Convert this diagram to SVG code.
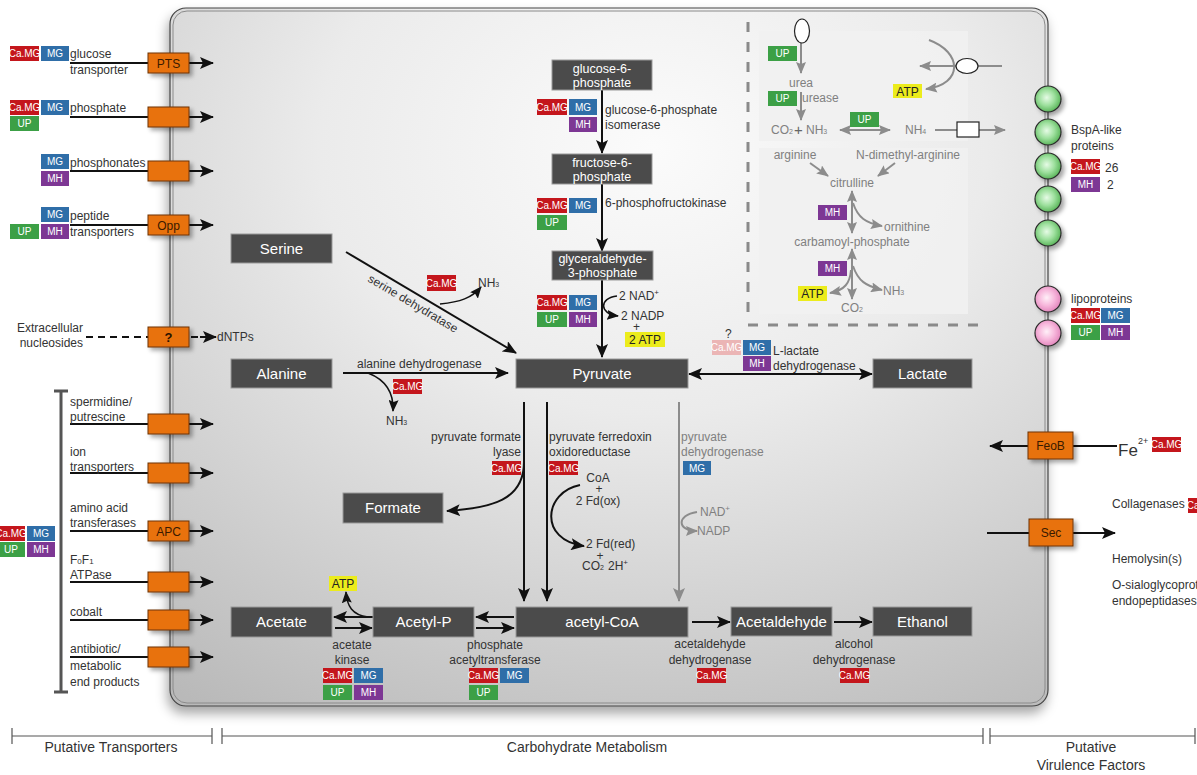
<svg xmlns="http://www.w3.org/2000/svg" width="1197" height="775" viewBox="0 0 1197 775">
<defs>
<style>
text{font-family:"Liberation Sans",Arial,Helvetica,sans-serif;}
.t{font-size:12px;fill:#333}
.tg{font-size:12px;fill:#808080}
.nb{fill:#4b4b4b;stroke:#9a9a9a;stroke-width:1}
.nt{font-size:15px;fill:#fff;text-anchor:middle}
.nt2{font-size:12.5px;fill:#fff;text-anchor:middle}
.ob{fill:#e8720f;stroke:#6e3404;stroke-width:1;filter:url(#osh)}
.ol{font-size:12px;fill:#3a1a00;text-anchor:middle}
.ln{stroke:#111;stroke-width:2;fill:none}
.lnt{stroke:#111;stroke-width:1.5;fill:none}
.gl{stroke:#8c8c8c;stroke-width:2;fill:none}
.dash{stroke:#111;stroke-width:2;fill:none;stroke-dasharray:7,5}
.r{fill:#c4161c}.b{fill:#2f6ea8}.g{fill:#3ca046}.p{fill:#7d3794}.pr{fill:#ebb5b5}
.y{fill:#ecec1c}
.tt{font-size:10px;fill:#fff;text-anchor:middle}
.yt{font-size:12px;fill:#222;text-anchor:middle}
.mid{text-anchor:middle}
.end{text-anchor:end}
.lab{font-size:14px;fill:#333;text-anchor:middle}
.panel{fill:#f1f1f1;opacity:0.9}
.idash{stroke:#8a8a8a;stroke-width:3;fill:none;stroke-dasharray:10,10}
</style>
<radialGradient id="cellg" cx="0.55" cy="0.2" r="0.95">
<stop offset="0" stop-color="#fbfbfb"/>
<stop offset="0.4" stop-color="#ebebeb"/>
<stop offset="1" stop-color="#b9b9b9"/>
</radialGradient>
<radialGradient id="grn" cx="0.45" cy="0.45" r="0.6">
<stop offset="0" stop-color="#e6fbe6"/>
<stop offset="0.5" stop-color="#9ee09e"/>
<stop offset="1" stop-color="#4fae4f"/>
</radialGradient>
<radialGradient id="pnk" cx="0.45" cy="0.45" r="0.6">
<stop offset="0" stop-color="#fff0f8"/>
<stop offset="0.5" stop-color="#f7b8dc"/>
<stop offset="1" stop-color="#e07fb8"/>
</radialGradient>
<filter id="csh" x="-5%" y="-5%" width="115%" height="115%">
<feDropShadow dx="-2" dy="7" stdDeviation="6" flood-color="#000" flood-opacity="0.35"/>
</filter>
<filter id="osh" x="-30%" y="-30%" width="170%" height="180%">
<feDropShadow dx="3" dy="3" stdDeviation="2" flood-color="#000" flood-opacity="0.35"/>
</filter>
<marker id="ah" viewBox="0 0 14 12" refX="13" refY="6" markerWidth="14" markerHeight="12" markerUnits="userSpaceOnUse" orient="auto-start-reverse">
<path d="M0,0 L14,6 L0,12 L3,6 z" fill="#111"/>
</marker>
<marker id="ahs" viewBox="0 0 12 10" refX="11" refY="5" markerWidth="12" markerHeight="10" markerUnits="userSpaceOnUse" orient="auto-start-reverse">
<path d="M0,0 L12,5 L0,10 L2,5 z" fill="#111"/>
</marker>
<marker id="ahg" viewBox="0 0 14 12" refX="13" refY="6" markerWidth="14" markerHeight="12" markerUnits="userSpaceOnUse" orient="auto-start-reverse">
<path d="M0,0 L14,6 L0,12 L3,6 z" fill="#8c8c8c"/>
</marker>
<marker id="ahgs" viewBox="0 0 12 10" refX="11" refY="5" markerWidth="12" markerHeight="10" markerUnits="userSpaceOnUse" orient="auto-start-reverse">
<path d="M0,0 L12,5 L0,10 L2,5 z" fill="#8c8c8c"/>
</marker>
</defs>

<rect width="1197" height="775" fill="#fff"/>

<!-- cell -->
<g id="cell">
<rect x="170" y="8" width="878" height="698" rx="16" fill="url(#cellg)" stroke="#444" stroke-width="1.2" filter="url(#csh)"/>
<rect x="173" y="11" width="872" height="692" rx="14" fill="none" stroke="#8a8a8a" stroke-width="1"/>
</g>

<!-- inset -->
<g id="inset">
<rect class="panel" x="759" y="31" width="209" height="110"/>
<rect class="panel" x="759" y="148" width="209" height="166"/>
<path class="idash" d="M748,22 V318"/>
<path class="idash" d="M748,325 H980"/>
</g>

<!-- connectors -->
<g id="connectors">
<!-- transporters left -->
<path class="ln" d="M70,63 H148"/><path class="ln" d="M189,63 H213" marker-end="url(#ah)"/>
<path class="ln" d="M70,117 H148"/><path class="ln" d="M189,117 H213" marker-end="url(#ah)"/>
<path class="ln" d="M70,171 H148"/><path class="ln" d="M189,171 H213" marker-end="url(#ah)"/>
<path class="ln" d="M70,225 H148"/><path class="ln" d="M189,225 H213" marker-end="url(#ah)"/>
<path class="dash" d="M86,337 H148"/><path class="dash" d="M191,337 H200"/><path class="ln" d="M200,337 H216" marker-end="url(#ah)"/>
<path class="ln" d="M70,424 H148"/><path class="ln" d="M189,424 H213" marker-end="url(#ah)"/>
<path class="ln" d="M70,473 H148"/><path class="ln" d="M189,473 H213" marker-end="url(#ah)"/>
<path class="ln" d="M70,531 H148"/><path class="ln" d="M189,531 H213" marker-end="url(#ah)"/>
<path class="ln" d="M70,582 H148"/><path class="ln" d="M189,582 H213" marker-end="url(#ah)"/>
<path class="ln" d="M70,620 H148"/><path class="ln" d="M189,620 H213" marker-end="url(#ah)"/>
<path class="ln" d="M70,657 H148"/><path class="ln" d="M189,657 H213" marker-end="url(#ah)"/>
<!-- bracket -->
<path d="M61,391 V692 M54,391 H68 M54,692 H68" stroke="#555" stroke-width="3" fill="none"/>

<!-- glycolysis -->
<path class="ln" d="M602,90 V153" marker-end="url(#ah)"/>
<path class="ln" d="M602,184 V251" marker-end="url(#ah)"/>
<path class="ln" d="M602,280 V357" marker-end="url(#ah)"/>
<path class="lnt" d="M617,296 C599,298 599,314 618,316" marker-end="url(#ahs)"/>
<!-- serine -->
<path class="ln" d="M346,252 L516,353" marker-end="url(#ah)"/>
<path class="lnt" d="M440,304 C460,302 472,298 481,287" marker-end="url(#ahs)"/>
<!-- alanine -->
<path class="ln" d="M343,373 H508" marker-end="url(#ah)"/>
<path class="lnt" d="M368,373 C386,380 394,392 393,411" marker-end="url(#ahs)"/>
<!-- lactate -->
<path class="ln" d="M689,374 H872" marker-start="url(#ah)" marker-end="url(#ah)"/>
<!-- pyruvate to acetyl-CoA -->
<path class="ln" d="M524,402 V601" marker-end="url(#ah)"/>
<path class="ln" d="M547,402 V601" marker-end="url(#ah)"/>
<path class="gl" d="M679,402 V601" marker-end="url(#ahg)"/>
<path class="ln" d="M524,462 C524,500 492,508 447,511" marker-end="url(#ah)"/>
<path class="ln" d="M580,485 C544,492 538,540 584,546" marker-end="url(#ah)"/>
<path class="gl" d="M697,512 C676,515 677,531 697,531" stroke-width="1.5" marker-end="url(#ahgs)"/>
<!-- bottom -->
<path class="ln" d="M373,617 H334" marker-end="url(#ah)"/>
<path class="ln" d="M335,628 H372" marker-end="url(#ah)"/>
<path class="lnt" d="M368,617 C352,615 347,606 346,592" marker-end="url(#ahs)"/>
<path class="ln" d="M514,617 H476" marker-end="url(#ah)"/>
<path class="ln" d="M476,628 H514" marker-end="url(#ah)"/>
<path class="ln" d="M692,622 H730" marker-end="url(#ah)"/>
<path class="ln" d="M834,622 H872" marker-end="url(#ah)"/>
<!-- right -->
<path class="ln" d="M1028,446 H990" marker-end="url(#ah)"/>
<path class="ln" d="M1073,446 H1117"/>
<path class="ln" d="M987,533 H1029"/>
<path class="ln" d="M1073,533 H1115" marker-end="url(#ah)"/>
<!-- inset connectors -->
<path class="gl" d="M801,43 V73" marker-end="url(#ahgs)"/>
<path class="gl" d="M801,92 V120" marker-end="url(#ahgs)"/>
<path class="gl" d="M840,130 H890" marker-start="url(#ahgs)" marker-end="url(#ahgs)"/>
<path class="gl" d="M935,130 H957"/>
<path class="gl" d="M979,130 H1005" marker-end="url(#ahgs)"/>
<path class="gl" d="M1002,66 H978"/>
<path class="gl" d="M956,66 H920" marker-end="url(#ahgs)"/>
<path class="gl" d="M929,40 C962,52 964,84 926,89" marker-end="url(#ahgs)"/>
<path class="gl" d="M810,163 L828,176" marker-end="url(#ahgs)"/>
<path class="gl" d="M895,163 L878,176" marker-end="url(#ahgs)"/>
<path class="gl" d="M852,191 V233" marker-start="url(#ahgs)" marker-end="url(#ahgs)"/>
<path class="gl" d="M853,203 C858,218 866,223 882,226" marker-end="url(#ahgs)"/>
<path class="gl" d="M852,249 V299" marker-start="url(#ahgs)" marker-end="url(#ahgs)"/>
<path class="gl" d="M853,266 C858,281 866,286 882,290" marker-end="url(#ahgs)"/>
<path class="gl" d="M851,270 C850,283 845,290 830,293" marker-end="url(#ahgs)"/>
</g>

<!-- inset items -->
<g id="inset-items">
<ellipse cx="802" cy="31" rx="7.5" ry="12" fill="#fff" stroke="#222" stroke-width="1.2"/>
<ellipse cx="967" cy="66" rx="11" ry="7.5" fill="#fff" stroke="#222" stroke-width="1.2"/>
<rect x="957" y="122" width="22" height="15" fill="#fff" stroke="#222" stroke-width="1.2"/>
<g transform="translate(768,46)"><rect class="g" width="29" height="15"/><text class="tt" x="14.5" y="11">UP</text></g>
<g transform="translate(768,91)"><rect class="g" width="29" height="15"/><text class="tt" x="14.5" y="11">UP</text></g>
<g transform="translate(850,112)"><rect class="g" width="29" height="15"/><text class="tt" x="14.5" y="11">UP</text></g>
<g transform="translate(893,84)"><rect class="y" width="29" height="14"/><text class="yt" x="14.5" y="11.5">ATP</text></g>
<text class="tg mid" x="801" y="87">urea</text>
<text class="tg" x="802" y="102">urease</text>
<text class="tg" x="771" y="134" font-size="11">CO<tspan font-size="7">2</tspan></text>
<text x="794" y="135" font-size="15" fill="#666">+</text>
<text class="tg" x="806" y="134" font-size="11">NH<tspan font-size="7">3</tspan></text>
<text class="tg" x="905" y="134">NH<tspan font-size="7">4</tspan></text>
<text class="tg mid" x="795" y="159">arginine</text>
<text class="tg mid" x="908" y="159">N-dimethyl-arginine</text>
<text class="tg mid" x="852" y="187">citrulline</text>
<g transform="translate(818,205)"><rect class="p" width="29" height="15"/><text class="tt" x="14.5" y="11">MH</text></g>
<text class="tg" x="884" y="231">ornithine</text>
<text class="tg mid" x="852" y="246">carbamoyl-phosphate</text>
<g transform="translate(818,261)"><rect class="p" width="29" height="15"/><text class="tt" x="14.5" y="11">MH</text></g>
<g transform="translate(798,286)"><rect class="y" width="29" height="15"/><text class="yt" x="14.5" y="12">ATP</text></g>
<text class="tg" x="883" y="295">NH<tspan font-size="7">3</tspan></text>
<text class="tg mid" x="852" y="312">CO<tspan font-size="7">2</tspan></text>
</g>

<!-- left transporters -->
<g id="t-pts">
<rect class="ob" x="148" y="53" width="41" height="20"/><text class="ol" x="168.5" y="67.5">PTS</text>
<text class="t" x="70" y="58">glucose</text><text class="t" x="70" y="74">transporter</text>
<g transform="translate(10,46)"><rect class="r" width="29" height="15"/><text class="tt" x="14.5" y="11">Ca.MG</text></g>
<g transform="translate(41,46)"><rect class="b" width="28" height="15"/><text class="tt" x="14" y="11">MG</text></g>
</g>
<g id="t-phosphate">
<rect class="ob" x="148" y="107" width="41" height="20"/>
<text class="t" x="70" y="112">phosphate</text>
<g transform="translate(10,100)"><rect class="r" width="29" height="15"/><text class="tt" x="14.5" y="11">Ca.MG</text></g>
<g transform="translate(41,100)"><rect class="b" width="28" height="15"/><text class="tt" x="14" y="11">MG</text></g>
<g transform="translate(10,116)"><rect class="g" width="29" height="15"/><text class="tt" x="14.5" y="11">UP</text></g>
</g>
<g id="t-phosphonates">
<rect class="ob" x="148" y="161" width="41" height="20"/>
<text class="t" x="70" y="167">phosphonates</text>
<g transform="translate(41,154)"><rect class="b" width="28" height="15"/><text class="tt" x="14" y="11">MG</text></g>
<g transform="translate(41,171)"><rect class="p" width="28" height="15"/><text class="tt" x="14" y="11">MH</text></g>
</g>
<g id="t-opp">
<rect class="ob" x="148" y="215" width="41" height="20"/><text class="ol" x="168.5" y="229.5">Opp</text>
<text class="t" x="70" y="220">peptide</text><text class="t" x="70" y="236">transporters</text>
<g transform="translate(41,207)"><rect class="b" width="28" height="15"/><text class="tt" x="14" y="11">MG</text></g>
<g transform="translate(10,224)"><rect class="g" width="29" height="15"/><text class="tt" x="14.5" y="11">UP</text></g>
<g transform="translate(41,224)"><rect class="p" width="28" height="15"/><text class="tt" x="14" y="11">MH</text></g>
</g>
<g id="t-nucleosides">
<rect class="ob" x="148" y="327" width="41" height="20"/><text x="168.5" y="342" font-size="13" font-weight="bold" fill="#2a1200" text-anchor="middle">?</text>
<text class="t end" x="83" y="332">Extracellular</text><text class="t end" x="83" y="347">nucleosides</text>
<text class="t" x="217" y="341">dNTPs</text>
</g>
<g id="t-spermidine">
<rect class="ob" x="148" y="414" width="41" height="20"/>
<text class="t" x="70" y="406">spermidine/</text><text class="t" x="70" y="421">putrescine</text>
</g>
<g id="t-ion">
<rect class="ob" x="148" y="463" width="41" height="20"/>
<text class="t" x="70" y="456">ion</text><text class="t" x="70" y="471">transporters</text>
</g>
<g id="t-apc">
<rect class="ob" x="148" y="521" width="41" height="20"/><text class="ol" x="168.5" y="535.5">APC</text>
<text class="t" x="70" y="512">amino acid</text><text class="t" x="70" y="527">transferases</text>
</g>
<g id="t-atpase">
<rect class="ob" x="148" y="572" width="41" height="20"/>
<text class="t" x="70" y="564">F<tspan font-size="8">0</tspan>F<tspan font-size="8">1</tspan></text><text class="t" x="70" y="579">ATPase</text>
</g>
<g id="t-cobalt">
<rect class="ob" x="148" y="610" width="41" height="20"/>
<text class="t" x="70" y="616">cobalt</text>
</g>
<g id="t-antibiotic">
<rect class="ob" x="148" y="647" width="41" height="20"/>
<text class="t" x="70" y="653">antibiotic/</text><text class="t" x="70" y="670">metabolic</text><text class="t" x="70" y="686">end products</text>
</g>
<g id="t-group-tags">
<g transform="translate(-3,526)"><rect class="r" width="28" height="15"/><text class="tt" x="14" y="11">Ca.MG</text></g>
<g transform="translate(27,526)"><rect class="b" width="28" height="15"/><text class="tt" x="14" y="11">MG</text></g>
<g transform="translate(-3,542)"><rect class="g" width="28" height="15"/><text class="tt" x="14" y="11">UP</text></g>
<g transform="translate(27,542)"><rect class="p" width="28" height="15"/><text class="tt" x="14" y="11">MH</text></g>
</g>

<!-- metabolic nodes -->
<g id="n-g6p"><rect class="nb" x="552" y="60" width="100" height="30"/><text class="nt2" x="602" y="73">glucose-6-</text><text class="nt2" x="602" y="87">phosphate</text></g>
<g id="n-f6p"><rect class="nb" x="552" y="154" width="100" height="30"/><text class="nt2" x="602" y="167">fructose-6-</text><text class="nt2" x="602" y="181">phosphate</text></g>
<g id="n-gap"><rect class="nb" x="552" y="251" width="101" height="29"/><text class="nt2" x="602.5" y="263">glyceraldehyde-</text><text class="nt2" x="602.5" y="277">3-phosphate</text></g>
<g id="n-serine"><rect class="nb" x="231" y="234" width="101" height="29"/><text class="nt" x="281.5" y="254">Serine</text></g>
<g id="n-alanine"><rect class="nb" x="231" y="359" width="101" height="29"/><text class="nt" x="281.5" y="379">Alanine</text></g>
<g id="n-pyruvate"><rect class="nb" x="516" y="359" width="172" height="29"/><text class="nt" x="602" y="379">Pyruvate</text></g>
<g id="n-lactate"><rect class="nb" x="873" y="359" width="99" height="29"/><text class="nt" x="922.5" y="379">Lactate</text></g>
<g id="n-formate"><rect class="nb" x="343" y="493" width="100" height="30"/><text class="nt" x="393" y="513">Formate</text></g>
<g id="n-acetate"><rect class="nb" x="231" y="607" width="101" height="30"/><text class="nt" x="281.5" y="627">Acetate</text></g>
<g id="n-acetylp"><rect class="nb" x="373" y="607" width="101" height="30"/><text class="nt" x="423.5" y="627">Acetyl-P</text></g>
<g id="n-acetylcoa"><rect class="nb" x="516" y="607" width="172" height="30"/><text class="nt" x="602" y="627">acetyl-CoA</text></g>
<g id="n-acetaldehyde"><rect class="nb" x="731" y="607" width="101" height="29"/><text class="nt" x="781.5" y="627">Acetaldehyde</text></g>
<g id="n-ethanol"><rect class="nb" x="873" y="607" width="99" height="29"/><text class="nt" x="922.5" y="627">Ethanol</text></g>

<!-- enzyme labels -->
<g id="e-gpi">
<g transform="translate(537,99)"><rect class="r" width="30" height="16"/><text class="tt" x="15" y="12">Ca.MG</text></g>
<g transform="translate(569,99)"><rect class="b" width="28" height="16"/><text class="tt" x="14" y="12">MG</text></g>
<g transform="translate(569,117)"><rect class="p" width="28" height="15"/><text class="tt" x="14" y="11">MH</text></g>
<text class="t" x="605" y="114">glucose-6-phosphate</text><text class="t" x="605" y="129">isomerase</text>
</g>
<g id="e-pfk">
<g transform="translate(537,198)"><rect class="r" width="30" height="15"/><text class="tt" x="15" y="11">Ca.MG</text></g>
<g transform="translate(569,198)"><rect class="b" width="28" height="15"/><text class="tt" x="14" y="11">MG</text></g>
<g transform="translate(537,215)"><rect class="g" width="30" height="15"/><text class="tt" x="15" y="11">UP</text></g>
<text class="t" x="605" y="207">6-phosphofructokinase</text>
</g>
<g id="e-gapdh">
<g transform="translate(537,295)"><rect class="r" width="30" height="15"/><text class="tt" x="15" y="11">Ca.MG</text></g>
<g transform="translate(569,295)"><rect class="b" width="28" height="15"/><text class="tt" x="14" y="11">MG</text></g>
<g transform="translate(537,312)"><rect class="g" width="30" height="15"/><text class="tt" x="15" y="11">UP</text></g>
<g transform="translate(569,312)"><rect class="p" width="28" height="15"/><text class="tt" x="14" y="11">MH</text></g>
<text class="t" x="619" y="300">2 NAD<tspan font-size="8" dy="-5">+</tspan></text>
<text class="t" x="621" y="320">2 NADP</text>
<text class="t" x="633" y="331" font-size="10">+</text>
<g transform="translate(625,332)"><rect class="y" width="40" height="15"/><text class="yt" x="20" y="12">2 ATP</text></g>
</g>
<g id="e-serine">
<text class="t" text-anchor="middle" transform="translate(411,307) rotate(30.7)">serine dehydratase</text>
<g transform="translate(427,275)"><rect class="r" width="29" height="16"/><text class="tt" x="14.5" y="12">Ca.MG</text></g>
<text class="t" x="478" y="287">NH<tspan font-size="7">3</tspan></text>
</g>
<g id="e-alanine">
<text class="t" x="357" y="368">alanine dehydrogenase</text>
<g transform="translate(393,379)"><rect class="r" width="29" height="15"/><text class="tt" x="14.5" y="11">Ca.MG</text></g>
<text class="t" x="386" y="425">NH<tspan font-size="7">3</tspan></text>
</g>
<g id="e-ldh">
<text class="t" x="725" y="338" font-size="9">?</text>
<g transform="translate(712,340)"><rect class="pr" width="29" height="15"/><text class="tt" x="14.5" y="11">Ca.MG</text></g>
<g transform="translate(743,340)"><rect class="b" width="28" height="15"/><text class="tt" x="14" y="11">MG</text></g>
<g transform="translate(743,356)"><rect class="p" width="28" height="15"/><text class="tt" x="14" y="11">MH</text></g>
<text class="t" x="773" y="355">L-lactate</text><text class="t" x="773" y="370">dehydrogenase</text>
</g>
<g id="e-pfl">
<text class="t end" x="521" y="441">pyruvate formate</text><text class="t end" x="521" y="456">lyase</text>
<g transform="translate(492,461)"><rect class="r" width="29" height="14"/><text class="tt" x="14.5" y="10.5">Ca.MG</text></g>
</g>
<g id="e-pfor">
<text class="t" x="549" y="441">pyruvate ferredoxin</text><text class="t" x="549" y="456">oxidoreductase</text>
<g transform="translate(549,461)"><rect class="r" width="29" height="14"/><text class="tt" x="14.5" y="10.5">Ca.MG</text></g>
<text class="t mid" x="598" y="482">CoA</text>
<text class="t mid" x="599" y="493" font-size="10">+</text>
<text class="t mid" x="598" y="505">2 Fd(ox)</text>
<text class="t" x="586" y="548">2 Fd(red)</text>
<text class="t mid" x="600" y="560" font-size="10">+</text>
<text class="t" x="582" y="570">CO<tspan font-size="7">2</tspan></text>
<text class="t" x="608" y="570">2H<tspan font-size="8" dy="-5">+</tspan></text>
</g>
<g id="e-pdh">
<text class="tg" x="681" y="441">pyruvate</text><text class="tg" x="681" y="456">dehydrogenase</text>
<g transform="translate(683,461)"><rect class="b" width="28" height="14"/><text class="tt" x="14" y="10.5">MG</text></g>
<text class="tg" x="700" y="516">NAD<tspan font-size="8" dy="-5">+</tspan></text>
<text class="tg" x="697" y="535">NADP</text>
</g>
<g id="e-ack">
<g transform="translate(329,576)"><rect class="y" width="28" height="15"/><text class="yt" x="14" y="12">ATP</text></g>
<text class="t mid" x="352" y="649">acetate</text><text class="t mid" x="352" y="664">kinase</text>
<g transform="translate(323,668)"><rect class="r" width="29" height="15"/><text class="tt" x="14.5" y="11">Ca.MG</text></g>
<g transform="translate(354,668)"><rect class="b" width="29" height="15"/><text class="tt" x="14.5" y="11">MG</text></g>
<g transform="translate(323,685)"><rect class="g" width="29" height="15"/><text class="tt" x="14.5" y="11">UP</text></g>
<g transform="translate(354,685)"><rect class="p" width="29" height="15"/><text class="tt" x="14.5" y="11">MH</text></g>
</g>
<g id="e-pta">
<text class="t mid" x="495" y="649">phosphate</text><text class="t mid" x="495" y="664">acetyltransferase</text>
<g transform="translate(469,668)"><rect class="r" width="29" height="15"/><text class="tt" x="14.5" y="11">Ca.MG</text></g>
<g transform="translate(500,668)"><rect class="b" width="29" height="15"/><text class="tt" x="14.5" y="11">MG</text></g>
<g transform="translate(469,685)"><rect class="g" width="29" height="15"/><text class="tt" x="14.5" y="11">UP</text></g>
</g>
<g id="e-aldh">
<text class="t mid" x="710" y="648">acetaldehyde</text><text class="t mid" x="710" y="664">dehydrogenase</text>
<g transform="translate(697,668)"><rect class="r" width="29" height="15"/><text class="tt" x="14.5" y="11">Ca.MG</text></g>
</g>
<g id="e-adh">
<text class="t mid" x="854" y="648">alcohol</text><text class="t mid" x="854" y="664">dehydrogenase</text>
<g transform="translate(840,668)"><rect class="r" width="29" height="15"/><text class="tt" x="14.5" y="11">Ca.MG</text></g>
</g>

<!-- right: virulence -->
<g id="v-bspa">
<circle cx="1048" cy="99" r="13" fill="url(#grn)" stroke="#2a2a2a" stroke-width="1.2" filter="url(#osh)"/>
<circle cx="1048" cy="132" r="13" fill="url(#grn)" stroke="#2a2a2a" stroke-width="1.2" filter="url(#osh)"/>
<circle cx="1048" cy="166" r="13" fill="url(#grn)" stroke="#2a2a2a" stroke-width="1.2" filter="url(#osh)"/>
<circle cx="1048" cy="199" r="13" fill="url(#grn)" stroke="#2a2a2a" stroke-width="1.2" filter="url(#osh)"/>
<circle cx="1048" cy="233" r="13" fill="url(#grn)" stroke="#2a2a2a" stroke-width="1.2" filter="url(#osh)"/>
<text class="t" x="1071" y="134">BspA-like</text><text class="t" x="1071" y="150">proteins</text>
<g transform="translate(1071,159)"><rect class="r" width="29" height="15"/><text class="tt" x="14.5" y="11">Ca.MG</text></g>
<text class="t" x="1105" y="172" font-size="13">26</text>
<g transform="translate(1071,177)"><rect class="p" width="29" height="15"/><text class="tt" x="14.5" y="11">MH</text></g>
<text class="t" x="1107" y="189" font-size="13">2</text>
</g>
<g id="v-lipo">
<circle cx="1048" cy="299" r="13" fill="url(#pnk)" stroke="#2a2a2a" stroke-width="1.2" filter="url(#osh)"/>
<circle cx="1048" cy="333" r="13" fill="url(#pnk)" stroke="#2a2a2a" stroke-width="1.2" filter="url(#osh)"/>
<text class="t" x="1071" y="303">lipoproteins</text>
<g transform="translate(1071,308)"><rect class="r" width="29" height="15"/><text class="tt" x="14.5" y="11">Ca.MG</text></g>
<g transform="translate(1101,308)"><rect class="b" width="29" height="15"/><text class="tt" x="14.5" y="11">MG</text></g>
<g transform="translate(1071,325)"><rect class="g" width="29" height="15"/><text class="tt" x="14.5" y="11">UP</text></g>
<g transform="translate(1101,325)"><rect class="p" width="29" height="15"/><text class="tt" x="14.5" y="11">MH</text></g>
</g>
<g id="v-feob">
<rect class="ob" x="1028" y="432" width="45" height="27"/><text class="ol" x="1050.5" y="450">FeoB</text>
<text x="1118" y="456" font-size="17" fill="#333">Fe</text><text x="1138" y="444" font-size="9" fill="#333">2+</text>
<g transform="translate(1152,437)"><rect class="r" width="29" height="15"/><text class="tt" x="14.5" y="11">Ca.MG</text></g>
</g>
<g id="v-sec">
<rect class="ob" x="1029" y="519" width="44" height="27"/><text class="ol" x="1051" y="537">Sec</text>
<text class="t" x="1112" y="508">Collagenases</text>
<g transform="translate(1188,498)"><rect class="r" width="29" height="15"/><text class="tt" x="14.5" y="11">Ca.MG</text></g>
<text class="t" x="1112" y="563">Hemolysin(s)</text>
<text class="t" x="1112" y="589">O-sialoglycoprotein</text>
<text class="t" x="1112" y="605">endopeptidases</text>
</g>

<!-- bottom scale -->
<g id="sections">
<path d="M12,736 H212 M12,728 V744 M212,728 V744 M222,736 H983 M222,728 V744 M983,728 V744 M990,736 H1195 M990,728 V744 M1195,728 V744" stroke="#555" stroke-width="1.2" fill="none"/>
<text class="lab" x="111" y="752">Putative Transporters</text>
<text class="lab" x="587" y="752">Carbohydrate Metabolism</text>
<text class="lab" x="1091" y="752">Putative</text>
<text class="lab" x="1091" y="770">Virulence Factors</text>
</g>
</svg>
